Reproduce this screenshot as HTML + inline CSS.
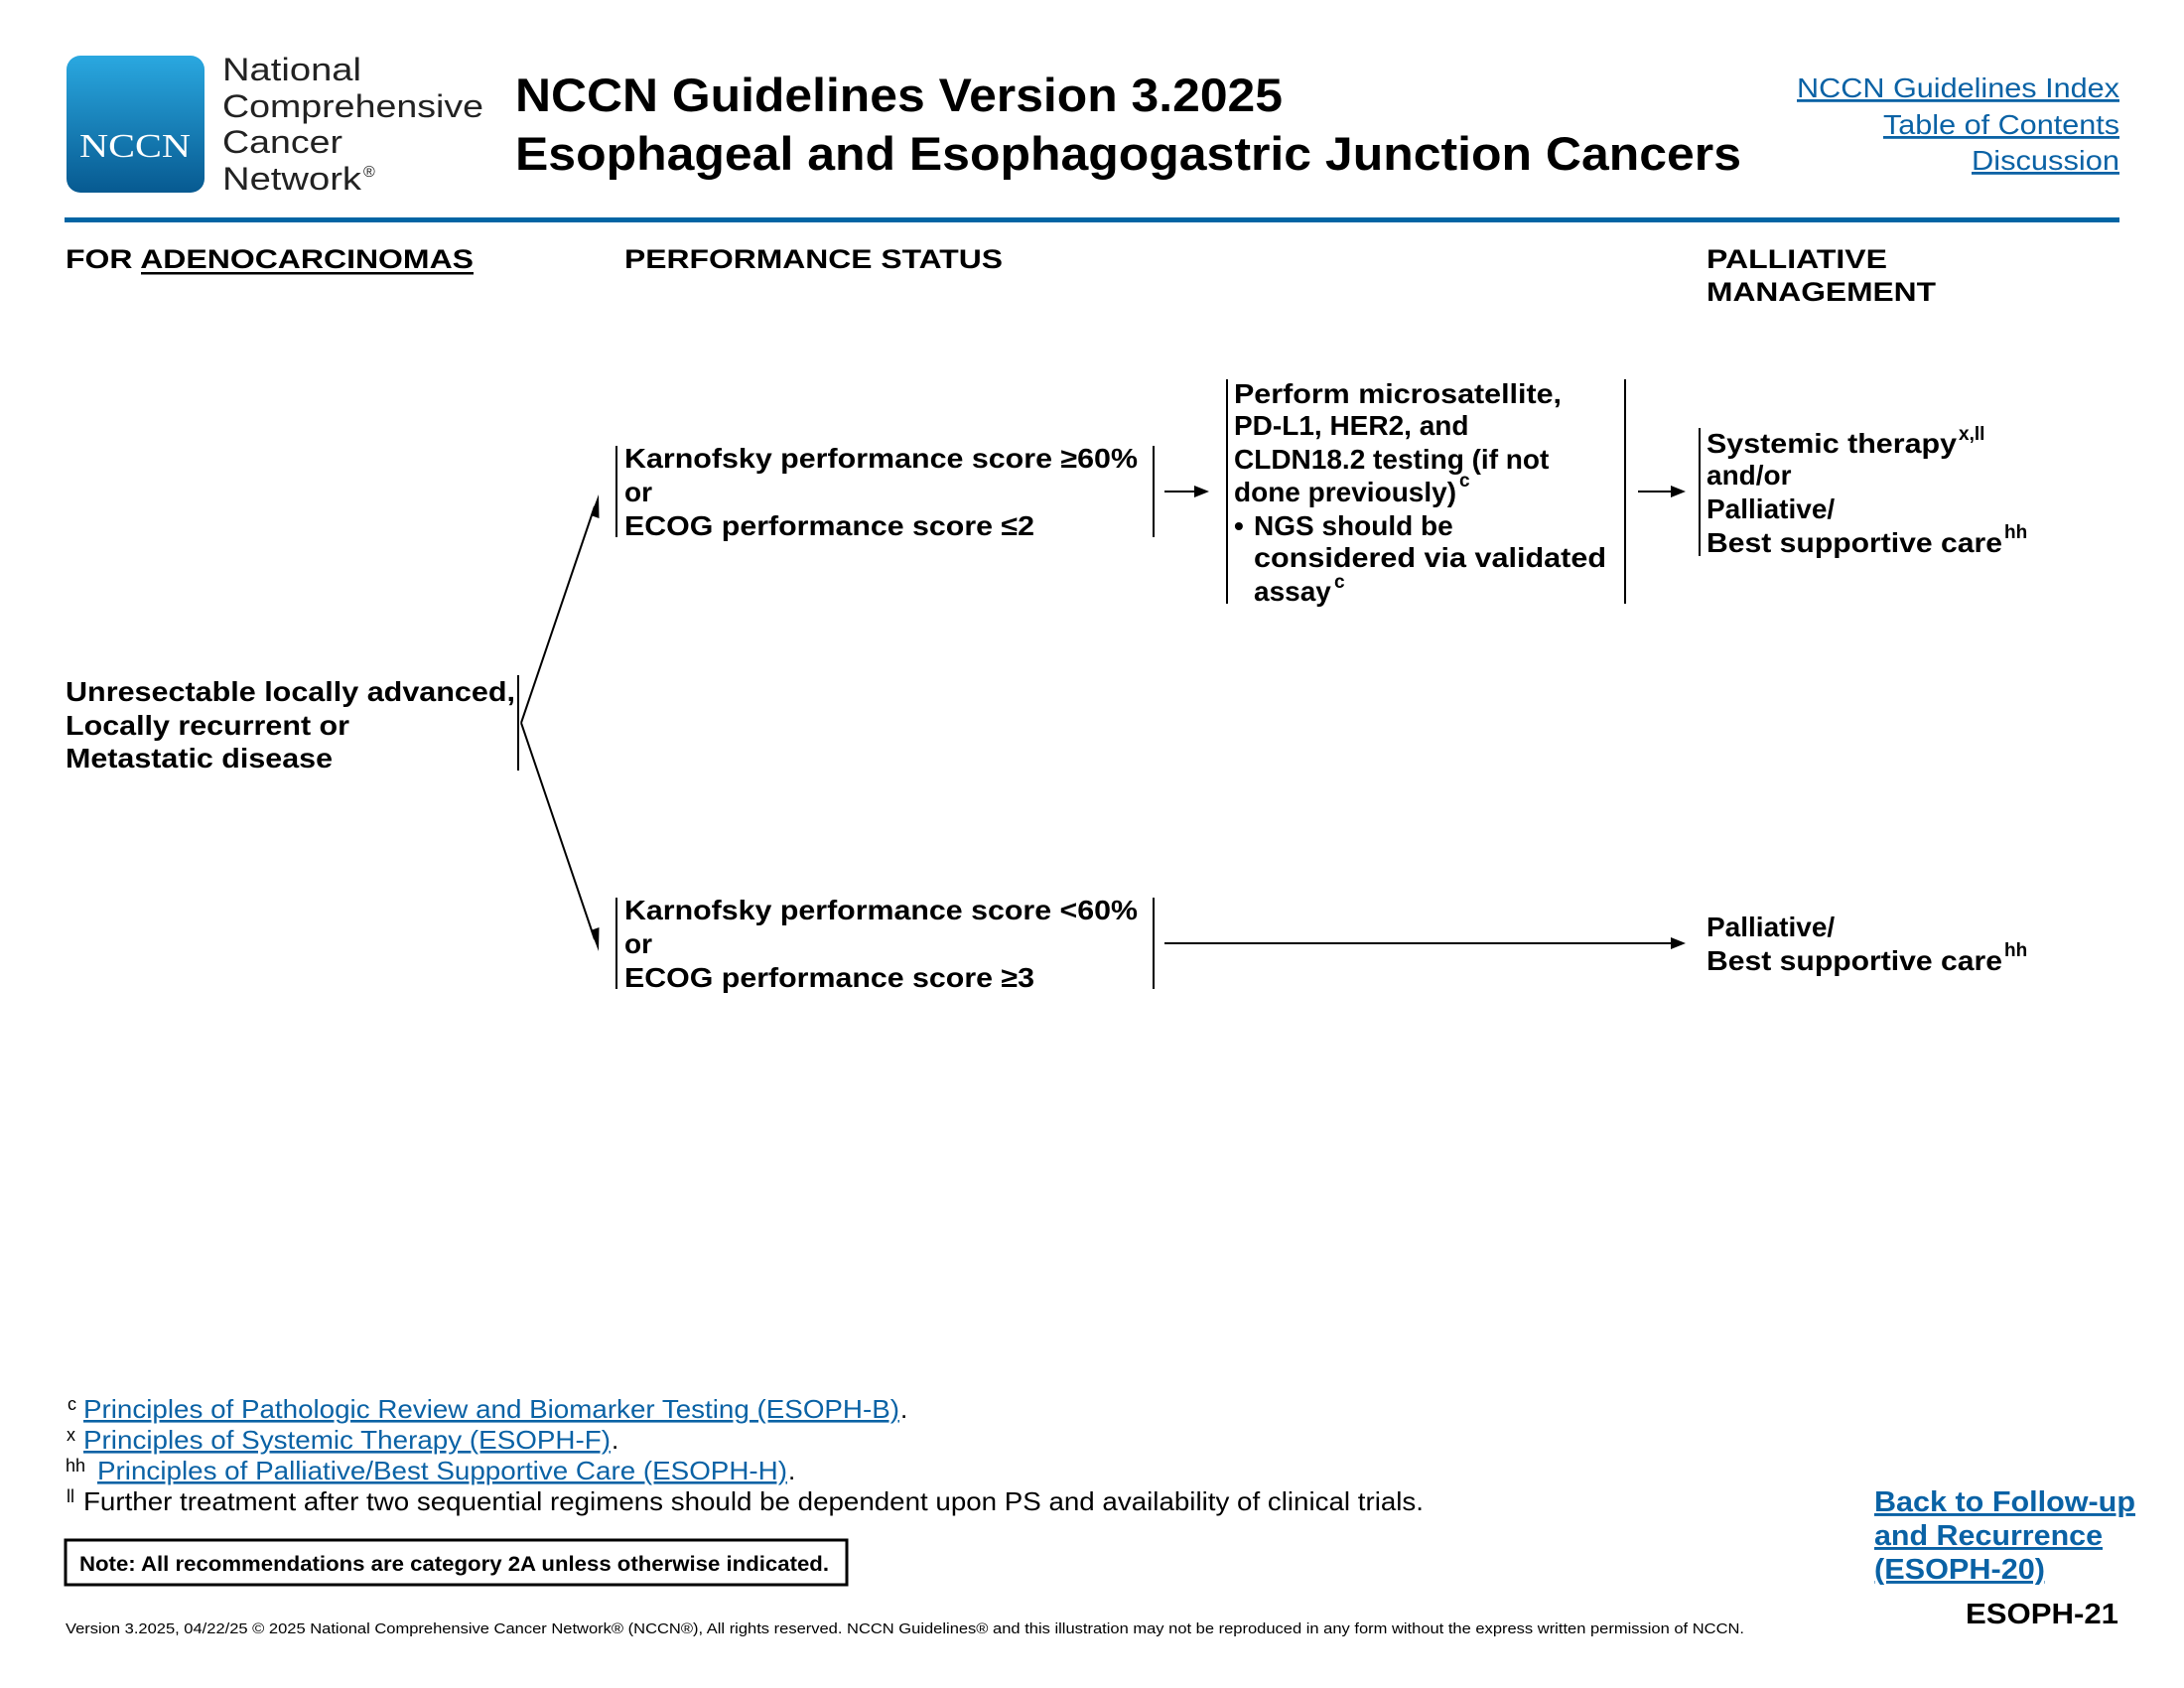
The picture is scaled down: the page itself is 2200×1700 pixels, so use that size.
<!DOCTYPE html>
<html><head><meta charset="utf-8"><style>
html,body{margin:0;padding:0;background:#fff;}
svg{display:block;}
text{font-family:"Liberation Sans",Arial,sans-serif;}
.b{font-weight:bold;fill:#000;font-size:28px;}
.l{fill:#0a62a5;text-decoration:underline;}
</style></head><body>
<svg width="2200" height="1700" viewBox="0 0 2200 1700" xmlns="http://www.w3.org/2000/svg">
<defs>
<linearGradient id="g" x1="0" y1="0" x2="0" y2="1"><stop offset="0" stop-color="#2aa8e0"/><stop offset="1" stop-color="#075a91"/></linearGradient>
</defs>
<rect x="67" y="56" width="139" height="138" rx="14" fill="url(#g)"/>
<text x="80" y="158" font-size="34" fill="#fff" textLength="112" lengthAdjust="spacingAndGlyphs" style="font-family:'Liberation Serif',serif">NCCN</text>
<g font-size="32" fill="#222">
<text x="224" y="81" textLength="140" lengthAdjust="spacingAndGlyphs">National</text>
<text x="224" y="118" textLength="263" lengthAdjust="spacingAndGlyphs">Comprehensive</text>
<text x="224" y="154" textLength="121" lengthAdjust="spacingAndGlyphs">Cancer</text>
<text x="224" y="191" textLength="140" lengthAdjust="spacingAndGlyphs">Network</text>
<text x="366" y="178" font-size="16">®</text>
</g>
<text x="519" y="112" font-size="47" font-weight="bold" textLength="773" lengthAdjust="spacingAndGlyphs">NCCN Guidelines Version 3.2025</text>
<text x="519" y="171" font-size="47" font-weight="bold" textLength="1235" lengthAdjust="spacingAndGlyphs">Esophageal and Esophagogastric Junction Cancers</text>
<g font-size="28" class="l">
<text x="1810" y="98" textLength="325" lengthAdjust="spacingAndGlyphs">NCCN Guidelines Index</text>
<text x="1897" y="135" textLength="238" lengthAdjust="spacingAndGlyphs">Table of Contents</text>
<text x="1986" y="171" textLength="149" lengthAdjust="spacingAndGlyphs">Discussion</text>
</g>
<rect x="65" y="219" width="2070" height="5" fill="#0065a4"/>
<g font-size="27" font-weight="bold">
<text x="66" y="270" textLength="411" lengthAdjust="spacingAndGlyphs">FOR ADENOCARCINOMAS</text>
<text x="629" y="270" textLength="381" lengthAdjust="spacingAndGlyphs">PERFORMANCE STATUS</text>
<text x="1719" y="270" textLength="182" lengthAdjust="spacingAndGlyphs">PALLIATIVE</text>
<text x="1719" y="303" textLength="231" lengthAdjust="spacingAndGlyphs">MANAGEMENT</text>
</g>
<rect x="142" y="274" width="335" height="2.5" fill="#000"/>
<text class="b" x="66" y="706" textLength="453" lengthAdjust="spacingAndGlyphs">Unresectable locally advanced,</text>
<text class="b" x="66" y="740" textLength="286" lengthAdjust="spacingAndGlyphs">Locally recurrent or</text>
<text class="b" x="66" y="773" textLength="269" lengthAdjust="spacingAndGlyphs">Metastatic disease</text>
<g stroke="#000" stroke-width="2" fill="none">
<line x1="522" y1="680" x2="522" y2="776"/>
<line x1="525" y1="728" x2="599" y2="510"/>
<line x1="525" y1="728" x2="599" y2="946"/>
<line x1="621" y1="449" x2="621" y2="541"/>
<line x1="1162" y1="449" x2="1162" y2="541"/>
<line x1="1173" y1="495" x2="1205" y2="495"/>
<line x1="1236" y1="382" x2="1236" y2="608"/>
<line x1="1637" y1="382" x2="1637" y2="608"/>
<line x1="1650" y1="495" x2="1685" y2="495"/>
<line x1="1712" y1="431" x2="1712" y2="560"/>
<line x1="621" y1="904" x2="621" y2="996"/>
<line x1="1162" y1="904" x2="1162" y2="996"/>
<line x1="1173" y1="950" x2="1685" y2="950"/>
</g>
<g fill="#000">
<polygon points="603,498 603.5,522 595,519"/>
<polygon points="603,958 595,937 603.5,934"/>
<polygon points="1218,495 1203,489 1203,501"/>
<polygon points="1698,495 1683,489 1683,501"/>
<polygon points="1698,950 1683,944 1683,956"/>
</g>
<text class="b" x="629" y="471" textLength="517" lengthAdjust="spacingAndGlyphs">Karnofsky performance score ≥60%</text>
<text class="b" x="629" y="505">or</text>
<text class="b" x="629" y="539" textLength="413" lengthAdjust="spacingAndGlyphs">ECOG performance score ≤2</text>
<text class="b" x="629" y="926" textLength="517" lengthAdjust="spacingAndGlyphs">Karnofsky performance score &lt;60%</text>
<text class="b" x="629" y="960">or</text>
<text class="b" x="629" y="994" textLength="413" lengthAdjust="spacingAndGlyphs">ECOG performance score ≥3</text>
<text class="b" x="1243" y="406" textLength="330" lengthAdjust="spacingAndGlyphs">Perform microsatellite,</text>
<text class="b" x="1243" y="438">PD-L1, HER2, and</text>
<text class="b" x="1243" y="472">CLDN18.2 testing (if not</text>
<text class="b" x="1243" y="505">done previously)</text>
<text x="1470" y="490" font-size="19" font-weight="bold">c</text>
<text class="b" x="1243" y="539">•</text>
<text class="b" x="1263" y="539">NGS should be</text>
<text class="b" x="1263" y="571" textLength="355" lengthAdjust="spacingAndGlyphs">considered via validated</text>
<text class="b" x="1263" y="605">assay</text>
<text x="1344" y="592" font-size="19" font-weight="bold">c</text>
<text class="b" x="1719" y="456" textLength="252" lengthAdjust="spacingAndGlyphs">Systemic therapy</text>
<text x="1973" y="443" font-size="19" font-weight="bold">x,ll</text>
<text class="b" x="1719" y="488">and/or</text>
<text class="b" x="1719" y="522">Palliative/</text>
<text class="b" x="1719" y="556" textLength="298" lengthAdjust="spacingAndGlyphs">Best supportive care</text>
<text x="2019" y="542" font-size="19" font-weight="bold">hh</text>
<text class="b" x="1719" y="943">Palliative/</text>
<text class="b" x="1719" y="977" textLength="298" lengthAdjust="spacingAndGlyphs">Best supportive care</text>
<text x="2019" y="963" font-size="19" font-weight="bold">hh</text>
<g font-size="26">
<text x="68" y="1420" font-size="18">c</text>
<text x="84" y="1428" class="l" textLength="822" lengthAdjust="spacingAndGlyphs">Principles of Pathologic Review and Biomarker Testing (ESOPH-B)</text>
<text x="907" y="1428">.</text>
<text x="67" y="1451" font-size="18">x</text>
<text x="84" y="1459" class="l" textLength="531" lengthAdjust="spacingAndGlyphs">Principles of Systemic Therapy (ESOPH-F)</text>
<text x="616" y="1459">.</text>
<text x="66" y="1482" font-size="18">hh</text>
<text x="98" y="1490" class="l" textLength="695" lengthAdjust="spacingAndGlyphs">Principles of Palliative/Best Supportive Care (ESOPH-H)</text>
<text x="794" y="1490">.</text>
<text x="67" y="1513" font-size="18">ll</text>
<text x="84" y="1521" textLength="1350" lengthAdjust="spacingAndGlyphs">Further treatment after two sequential regimens should be dependent upon PS and availability of clinical trials.</text>
</g>
<rect x="66" y="1551" width="787" height="45" fill="none" stroke="#000" stroke-width="3"/>
<text x="80" y="1582" font-size="21" font-weight="bold" textLength="755" lengthAdjust="spacingAndGlyphs">Note: All recommendations are category 2A unless otherwise indicated.</text>
<g font-size="29" font-weight="bold" class="l">
<text x="1888" y="1522" textLength="263" lengthAdjust="spacingAndGlyphs">Back to Follow-up</text>
<text x="1888" y="1556" textLength="230" lengthAdjust="spacingAndGlyphs">and Recurrence</text>
<text x="1888" y="1590" textLength="172" lengthAdjust="spacingAndGlyphs">(ESOPH-20)</text>
</g>
<text x="2134" y="1635" font-size="29" font-weight="bold" text-anchor="end" textLength="154" lengthAdjust="spacingAndGlyphs">ESOPH-21</text>
<text x="66" y="1645" font-size="15" textLength="1691" lengthAdjust="spacingAndGlyphs">Version 3.2025, 04/22/25 © 2025 National Comprehensive Cancer Network® (NCCN®), All rights reserved. NCCN Guidelines® and this illustration may not be reproduced in any form without the express written permission of NCCN.</text>
</svg>
</body></html>
